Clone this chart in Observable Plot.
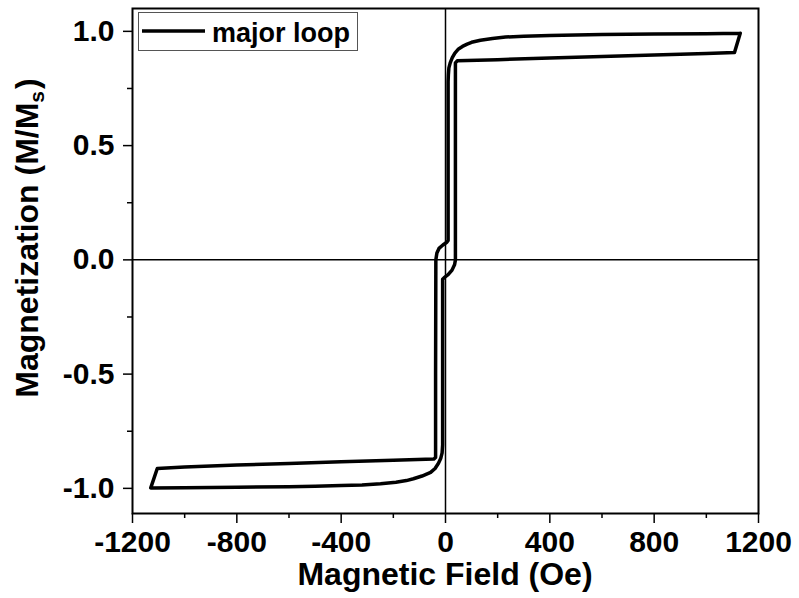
<!DOCTYPE html>
<html>
<head>
<meta charset="utf-8">
<script src="https://cdn.jsdelivr.net/npm/d3@7"></script>
<script src="https://cdn.jsdelivr.net/npm/@observablehq/plot@0.6"></script>
<style>
  html, body { margin: 0; padding: 0; background: #fff; }
  #chart { position: relative; width: 799px; height: 598px; }
</style>
</head>
<body>
<div id="chart"></div>
<script>
// Descending branch (from +saturation to -saturation), field in Oe, M/Ms
const descField = [1130, 1000, 800, 600, 500, 400, 300, 230, 180, 134, 100, 83, 65, 50, 36, 26, 18, 13, 11, 10, 10, 5, -10, -25, -33, -37, -38, -38, -45, -200, -400, -600, -800, -1000, -1105, -1130];
const descMag   = [0.992, 0.990, 0.988, 0.986, 0.984, 0.982, 0.979, 0.975, 0.969, 0.961, 0.952, 0.944, 0.934, 0.923, 0.905, 0.885, 0.862, 0.840, 0.810, 0.780, 0.085, 0.077, 0.065, 0.050, 0.030, 0.000, -0.500, -0.865, -0.872, -0.877, -0.884, -0.891, -0.898, -0.906, -0.913, -0.998];
// Ascending branch (from -saturation back to +saturation)
const ascField = [-1130, -1000, -800, -600, -500, -400, -320, -249, -190, -150, -123, -90, -57, -40, -27, -18, -13, -11, -11, -5, 10, 25, 35, 38, 38, 38, 45, 200, 400, 600, 800, 1000, 1108, 1130];
const ascMag   = [-0.998, -0.997, -0.995, -0.993, -0.991, -0.988, -0.985, -0.980, -0.973, -0.966, -0.958, -0.946, -0.930, -0.913, -0.890, -0.868, -0.845, -0.810, -0.085, -0.078, -0.065, -0.045, -0.020, 0.000, 0.500, 0.862, 0.871, 0.876, 0.883, 0.890, 0.897, 0.903, 0.907, 0.992];

const xTicks = [-1200, -800, -400, 0, 400, 800, 1200];
const xMinorTicks = [-1000, -600, -200, 200, 600, 1000];
const yTicks = [-1.0, -0.5, 0.0, 0.5, 1.0];
const yMinorTicks = [-0.75, -0.25, 0.25, 0.75];

const seriesName = "major loop";
const xTitle = "Magnetic Field (Oe)";
const yTitleMain = "Magnetization (M/M";
const yTitleSub = "s";
const yTitleEnd = ")";

const loop = [];
descField.forEach((h, i) => loop.push({h, m: descMag[i]}));
ascField.forEach((h, i) => loop.push({h, m: ascMag[i]}));

const font = "'Liberation Sans', Arial, Helvetica, sans-serif";

const chart = Plot.plot({
  width: 799,
  height: 598,
  marginLeft: 132,
  marginRight: 41,
  marginTop: 8,
  marginBottom: 85,
  x: {domain: [-1200, 1200], label: null},
  y: {domain: [-1.11, 1.1], label: null},
  style: {fontFamily: font, fontWeight: "bold", fontSize: "30px", color: "black", background: "white"},
  marks: [
    Plot.ruleX([0], {stroke: "black", strokeWidth: 1.5}),
    Plot.ruleY([0], {stroke: "black", strokeWidth: 1.5}),
    Plot.line(loop, {x: "h", y: "m", stroke: "black", strokeWidth: 3.5, curve: "linear"}),
    Plot.axisX({ticks: xTicks, tickSize: 10, tickPadding: 7, tickFormat: d => String(d), label: null, strokeWidth: 1.5}),
    Plot.axisX({ticks: xMinorTicks, tickSize: 5, tickFormat: () => "", label: null, strokeWidth: 1.5}),
    Plot.axisY({ticks: yTicks, tickSize: 9, tickPadding: 9, tickFormat: d => d.toFixed(1), label: null, strokeWidth: 1.5}),
    Plot.axisY({ticks: yMinorTicks, tickSize: 5, tickFormat: () => "", label: null, strokeWidth: 1.5}),
    Plot.frame({stroke: "black", strokeWidth: 2})
  ]
});

document.getElementById("chart").appendChild(chart);

const svg = d3.select(chart);

// X title
svg.append("text")
  .attr("x", 445).attr("y", 585)
  .attr("text-anchor", "middle")
  .style("font-family", font).style("font-weight", "bold").style("font-size", "32px")
  .attr("fill", "black")
  .text(xTitle);

// Y title with subscript
const yt = svg.append("text")
  .attr("transform", "translate(38,238) rotate(-90)")
  .attr("text-anchor", "middle")
  .style("font-family", font).style("font-weight", "bold").style("font-size", "32px")
  .attr("fill", "black");
yt.append("tspan").text(yTitleMain);
yt.append("tspan").attr("dy", "0.3em").style("font-size", "21px").text(yTitleSub);
yt.append("tspan").attr("dy", "-0.2em").attr("dx", "2").text(yTitleEnd);

// Legend
const lg = svg.append("g");
lg.append("rect").attr("x", 138.5).attr("y", 12.5).attr("width", 219).attr("height", 38)
  .attr("fill", "white").attr("stroke", "#555").attr("stroke-width", 1);
lg.append("line").attr("x1", 142).attr("x2", 205).attr("y1", 31).attr("y2", 31)
  .attr("stroke", "black").attr("stroke-width", 3.5);
lg.append("text").attr("x", 212).attr("y", 41.5)
  .attr("text-anchor", "start")
  .style("font-family", font).style("font-weight", "bold").style("font-size", "27px")
  .attr("fill", "black").text(seriesName);
</script>
</body>
</html>
